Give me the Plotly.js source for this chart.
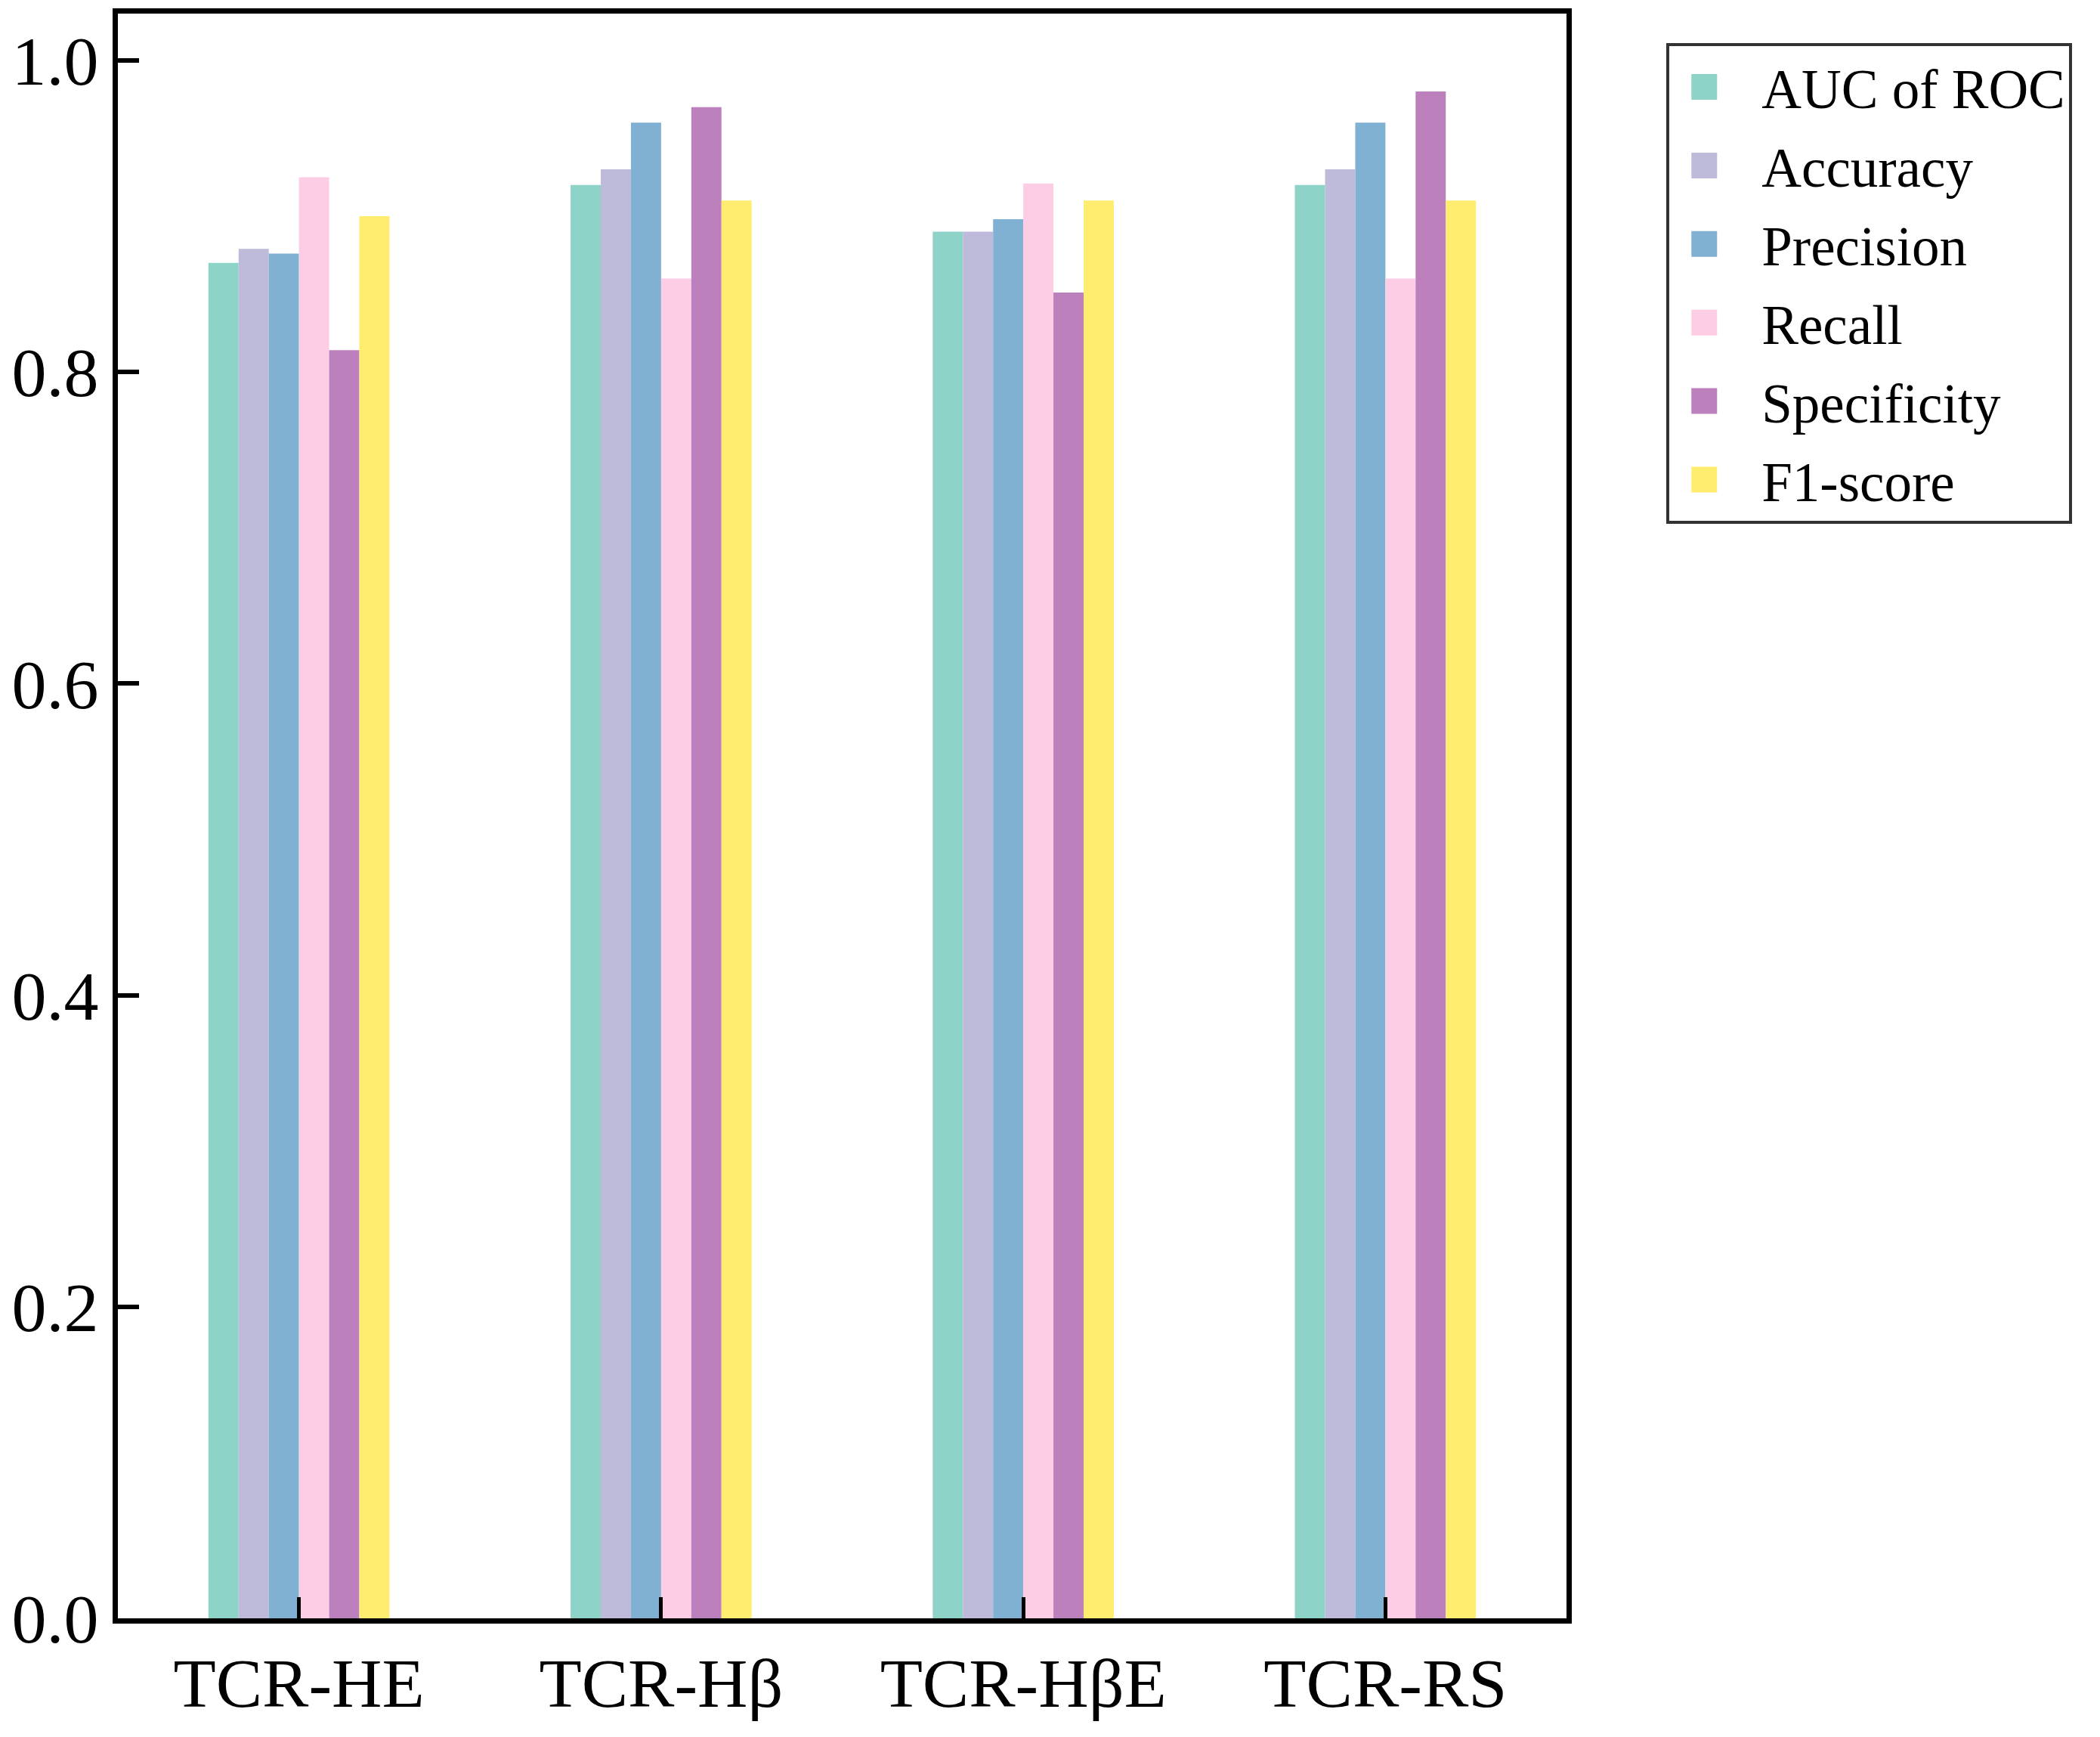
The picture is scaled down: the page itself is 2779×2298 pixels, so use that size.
<!DOCTYPE html>
<html>
<head>
<meta charset="utf-8">
<script src="https://cdn.plot.ly/plotly-3.0.1.min.js"></script>
<style>
  html, body { margin: 0; padding: 0; background: #ffffff; }
  #chart { width: 2779px; height: 2298px; }
</style>
</head>
<body>
<div id="chart"></div>
<script>
// data
const categories = ['TCR-HE', 'TCR-Hβ', 'TCR-HβE', 'TCR-RS'];
const metricNames = ['AUC of ROC', 'Accuracy', 'Precision', 'Recall', 'Specificity', 'F1-score'];
const aucValues = [0.870, 0.920, 0.890, 0.920];
const accuracyValues = [0.879, 0.930, 0.890, 0.930];
const precisionValues = [0.876, 0.960, 0.898, 0.960];
const recallValues = [0.925, 0.860, 0.921, 0.860];
const specificityValues = [0.814, 0.970, 0.851, 0.980];
const f1Values = [0.900, 0.910, 0.910, 0.910];
const yTickValues = [0.0, 0.2, 0.4, 0.6, 0.8, 1.0];

const seriesValues = [aucValues, accuracyValues, precisionValues, recallValues, specificityValues, f1Values];
const colors = ['#8dd3c7', '#bebada', '#80b1d3', '#fccde5', '#bc80bd', '#ffed6f'];

const FONT = '"Liberation Serif", "Times New Roman", serif';

const data = metricNames.map((name, i) => ({
    type: 'bar',
    name: name,
    legendgroup: name,
    x: categories,
    y: seriesValues[i],
    marker: { color: colors[i], line: { width: 0 } },
    hoverinfo: 'x+y+name',
}));

const axisCommon = {
    showline: true,
    linecolor: '#000000',
    linewidth: 7,
    mirror: true,
    showgrid: false,
    zeroline: false,
    ticks: 'inside',
    tickcolor: '#000000',
    tickfont: { family: FONT, size: 92, color: '#000000' },
};

const layout = {
    width: 2779,
    height: 2298,
    paper_bgcolor: '#ffffff',
    plot_bgcolor: '#ffffff',
    barmode: 'group',
    bargap: 0.5,
    bargroupgap: 0,
    margin: { l: 156, r: 706, t: 18, b: 157, pad: 0 },
    xaxis: Object.assign({}, axisCommon, {
        type: 'category',
        range: [-0.5, 3.5],
        ticklen: 28,
        tickwidth: 5,
        ticklabelstandoff: 0,
    }),
    yaxis: Object.assign({}, axisCommon, {
        range: [0, 1.03],
        tickvals: yTickValues,
        ticktext: yTickValues.map(v => v.toFixed(1)),
        ticklen: 28,
        tickwidth: 6,
        ticklabelstandoff: 0,
    }),
    showlegend: true,
    legend: {
        x: 1.069,
        y: 0.9816,
        xanchor: 'left',
        yanchor: 'top',
        bgcolor: '#ffffff',
        bordercolor: '#333333',
        borderwidth: 4,
        font: { family: FONT, size: 73, color: '#000000' },
        itemwidth: 112,
        tracegroupgap: 6,
        traceorder: 'grouped',
    },
};

Plotly.newPlot('chart', data, layout, { displayModeBar: false, staticPlot: true }).then(() => {
    // enlarge the legend swatches (and nudge them left) to match the reference
    document.querySelectorAll('.legend .legendpoints path').forEach((p) => {
        p.setAttribute('d', 'M2,17H-32V-17H2Z');
    });
});
</script>
</body>
</html>
